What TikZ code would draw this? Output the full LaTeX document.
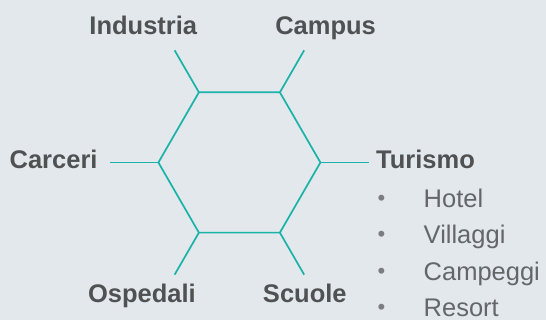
\documentclass[tikz,border=0pt]{standalone}
\usepackage{fontspec}
\setmainfont{Liberation Sans}
\usetikzlibrary{calc}

\definecolor{bgcol}{HTML}{E2E8EB}
\definecolor{hexteal}{HTML}{1BB3A9}
\definecolor{labgray}{HTML}{505153}
\definecolor{itemgray}{HTML}{63676A}

\newcommand{\tlitem}[1]{\makebox[46pt][l]{\raisebox{2.1pt}{\fontsize{22}{22}\selectfont\color{itemgray!85}•}}#1}

\begin{document}
\begin{tikzpicture}[x=1pt,y=1pt,hex line/.style={draw=hexteal,line width=1.7pt},sector/.style={inner sep=0pt,anchor=base,text=labgray,font=\fontsize{25.5}{28}\selectfont\bfseries},item/.style={inner sep=0pt,anchor=base west,text=itemgray,font=\fontsize{25.5}{28}\selectfont}]

                \fill[bgcol] (0,0) rectangle (546,320);
                \useasboundingbox (0,0) rectangle (546,320);

                \coordinate (c) at (239.4,157.5);
                \foreach \a in {0,60,...,300}{
                    \coordinate (v\a) at ($(c)+(\a:81)$);
                    \coordinate (e\a) at ($(c)+(\a:129.5)$);
                }

                \draw[hex line] (v0) -- (v60) -- (v120) -- (v180) -- (v240) -- (v300) -- cycle;
                \foreach \a in {0,60,...,300}
                    \draw[hex line] (v\a) -- (e\a);

                \node[sector] (industria) at (143.3,285) {Industria};
                \node[sector] (campus) at (325.6,285) {Campus};
                \node[sector] (carceri) at (53.6,151.3) {Carceri};
                \node[sector,anchor=base west] (turismo) at (376,151.3) {Turismo};
                \node[sector] (ospedali) at (141.9,17.3) {Ospedali};
                \node[sector] (scuole) at (304.8,17.3) {Scuole};

                \node[item] (hotel) at (377.5,112.7) {\tlitem{Hotel}};
                \node[item] (villaggi) at (377.5,76) {\tlitem{Villaggi}};
                \node[item] (campeggi) at (377.5,39.3) {\tlitem{Campeggi}};
                \node[item] (resort) at (377.5,3.5) {\tlitem{Resort}};

                ;
            \end{tikzpicture}
\end{document}
